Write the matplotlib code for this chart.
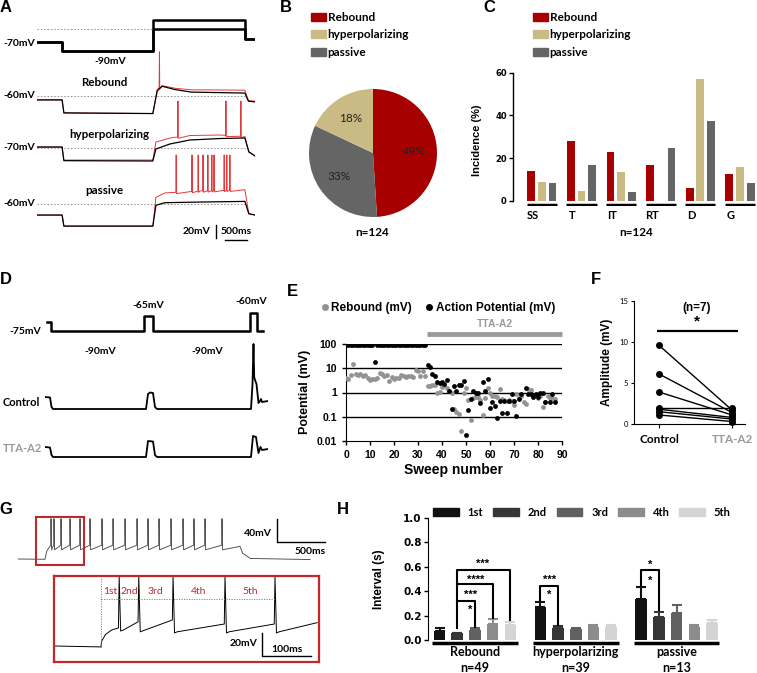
import numpy as np
import matplotlib
matplotlib.use('Agg')
import matplotlib.pyplot as plt
from matplotlib.patches import Patch, Rectangle
from matplotlib.lines import Line2D
from matplotlib.ticker import NullLocator

# ======================= DATA =======================
# --- Panel A (time in s, membrane potential in mV) ---
cmdA_t = [0, 0.57, 0.57, 2.64, 2.64, 4.72, 4.72, 4.95]
cmdA_hi = [-70, -70, -90, -90, -20, -20, -63, -63]
cmdA_lo = [-70, -70, -90, -90, -40, -40, -63, -63]

rebA_t = [0, 0.57, 0.61, 2.63, 2.73, 2.84, 3.13, 3.5, 4.72, 4.80, 4.95]
rebA_black = [-66, -66, -86, -87, -52, -45, -50, -54, -55.5, -68, -69]
rebA_red = [-66, -66, -86, -87, -50, -44, -48, -50.5, -51, -67, -68]
rebA_spikes = [2.78]

hypA_t = [0, 0.57, 0.61, 2.63, 2.70, 3.02, 3.47, 4.16, 4.72, 4.81, 4.95]
hypA_black = [-68.5, -68.5, -89.5, -90, -71.5, -63.8, -57.7, -55.4, -54.6, -76, -82.3]
hypA_red = [-68.5, -68.5, -88.5, -88.5, -60.8, -54.6, -50.8, -50, -52.3, -76, -82]
hypA_spikes = [3.20, 4.29, 4.63]

pasA_t = [0, 0.57, 0.61, 2.63, 2.70, 2.90, 3.70, 4.72, 4.81, 4.95]
pasA_black = [-77, -77, -94, -94, -62, -58, -57, -56, -75, -77]
pasA_red = [-77, -77, -94, -94, -50, -43, -40, -38, -75, -77]
pasA_spikes = [3.16, 3.52, 3.66, 3.77, 3.88, 3.97, 4.02, 4.25, 4.31, 4.38]

# --- Panel B ---
pie_labels = ['Rebound', 'hyperpolarizing', 'passive']
pie_vals = [49, 18, 33]

# --- Panel C ---
regions = ['SS', 'T', 'IT', 'RT', 'D', 'G']
inc_rebound = [14, 28, 23, 16.7, 6, 12.5]
inc_hyper = [9, 4.5, 13.5, 0, 57, 16]
inc_passive = [8.3, 16.7, 4.3, 25, 37.5, 8.3]

# --- Panel D (time in ms) ---
cmdD_t = [20, 60, 60, 990, 990, 1080, 1080, 2050, 2050, 2120, 2120, 2180]
cmdD_v = [-75, -75, -90, -90, -65, -65, -90, -90, -60, -60, -90, -90]
ctrlD_t = [0, 50, 65, 80, 1010, 1030, 1050, 1080, 1100, 1120, 2060, 2075, 2085, 2092, 2100, 2115, 2135, 2150, 2160, 2170, 2230]
ctrlD_v = [-75, -75.5, -85, -87, -87, -72, -70.5, -71, -85, -87, -87, -62, -22, -55, -58, -62, -81, -79, -77, -80, -79]
ttaD_t = [0, 50, 65, 80, 1010, 1030, 1080, 1100, 1120, 2060, 2080, 2110, 2135, 2155, 2170, 2230]
ttaD_v = [-75, -75.5, -83, -85, -85, -69, -69.5, -83, -85, -85, -64, -65, -81, -75, -78, -77]

# --- Panel E ---
reb_sweep = list(range(0, 34)) + list(range(34, 88))
reb_amp = [4.0, 3.5, 5.5, 15, 6, 5.5, 6, 5, 5.2, 4, 3.2, 3.5, 3.5, 3.8, 6.5, 6, 5, 5.5, 3, 4.5,
           3.5, 4, 4, 5.5, 5, 4.5, 5, 5, 4.5, 8.5, 8, 5, 8, 5,
           1.8, 1.9, 2.0, 2.1, 1.0, 1.05, 1.7, 2.0, 1.6, 1.1, 1.0, 0.2, 0.15, 0.13, 0.026, 1.0,
           1.5, 0.5, 0.075, 0.6, 0.65, 0.65, 0.5, 0.12, 0.6, 1.6, 0.95, 0.75, 0.7, 0.64, 1.35, 0.55,
           0.5, 0.45, 0.5, 0.45, 0.3, 0.9, 0.6, 0.7, 0.4, 0.33, 1.4, 1.3, 0.7, 0.8, 0.6, 0.7,
           0.26, 0.4, 0.7, 0.6, 0.6, 0.55]
ap_sweep = list(range(0, 34)) + [34, 35, 36, 37, 38, 39, 40, 41, 42, 43, 44, 45, 46, 47, 48, 49, 50, 51,
                                 52, 53, 54, 55, 56, 57, 58, 59, 60, 61, 62, 63, 64, 65, 66, 67, 68, 69,
                                 70, 71, 72, 73, 75, 76, 77, 78, 79, 80, 81, 82, 83, 85, 86, 87]
ap_amp = [88] * 12 + [18] + [88] * 21 + [14, 11, 6, 4.8, 2.7, 2.4, 2.6, 2.2, 3.2, 1.1, 0.21, 1.9, 1.1, 2.1,
                                         2.1, 3.0, 0.017, 0.19, 0.55, 1.1, 0.94, 1.0, 0.36, 2.8, 1.2, 3.6,
                                         0.23, 0.4, 0.29, 0.085, 0.44, 0.14, 0.44, 0.14, 0.44, 0.83, 0.44,
                                         0.11, 0.55, 0.88, 1.5, 0.83, 0.83, 0.64, 0.83, 0.64, 0.94, 0.94,
                                         0.4, 0.4, 0.9, 0.4]
tta_start, tta_end = 33.75, 90

# --- Panel F ---
f_control = [9.6, 6.1, 3.9, 2.0, 1.8, 1.5, 1.1]
f_tta = [1.7, 1.4, 1.1, 2.0, 0.8, 0.6, 0.3]

# --- Panel G (time in ms) ---
g_spikes = [344, 375, 448, 542, 646, 750, 875, 990, 1115, 1240, 1354, 1469, 1594, 1719, 1833, 1948, 2125]
g_window = (188, 688)
i_spikes = [133, 173, 243, 349, 451]
i_thresh = [-54.3, -49, -47.4, -50.9, -50.9]
i_trough = [-56, -56.7, -57.6, -57.6, -57.6]
i_names = ['1st', '2nd', '3rd', '4th', '5th']

# --- Panel H ---
h_groups = ['Rebound', 'hyperpolarizing', 'passive']
h_n = ['n=49', 'n=39', 'n=13']
h_labels = ['1st', '2nd', '3rd', '4th', '5th']
h_mean = [[0.075, 0.055, 0.082, 0.13, 0.123],
          [0.273, 0.10, 0.09, 0.104, 0.11],
          [0.34, 0.186, 0.218, 0.11, 0.142]]
h_err = [[0.021, 0.006, 0.018, 0.04, 0.022],
         [0.041, 0.015, 0.005, 0.016, 0.012],
         [0.097, 0.046, 0.072, 0.014, 0.021]]

# ======================= STYLE / LAYOUT =======================
RED = '#A60000'
TAN = '#C9BB83'
GRAY = '#656565'
TRACE_RED = '#E23A3C'
LATO = ['Lato', 'DejaVu Sans']
ARIAL = ['Liberation Sans', 'DejaVu Sans']
plt.rcParams['font.family'] = LATO

W, H = 757, 673
fig = plt.figure(figsize=(W / 100, H / 100), dpi=100)


def px_axes(x0, y0, x1, y1):
    ax = fig.add_axes([x0 / W, 1 - y1 / H, (x1 - x0) / W, (y1 - y0) / H])
    ax.patch.set_visible(False)
    return ax


ov = px_axes(0, 0, W, H)
ov.set_xlim(0, W)
ov.set_ylim(H, 0)
ov.axis('off')
ov.set_zorder(10)


def txt(x, y, s, size=7.5, ha='center', color='black', weight='bold', family=LATO, **kw):
    ov.text(x, y, s, ha=ha, va='center', fontsize=size, color=color,
            fontweight=weight, family=family, **kw)


def mv_axes(x0, x1, xlim, y0, y1, ref_px, ref_mv, ppm):
    ax = px_axes(x0, y0, x1, y1)
    ax.set_xlim(*xlim)
    ax.set_ylim(ref_mv - (y1 - ref_px) / ppm, ref_mv + (ref_px - y0) / ppm)
    ax.axis('off')
    return ax


def add_spikes(t, v, spikes, peak, w):
    t = np.asarray(t, float)
    v = np.asarray(v, float)
    tt, vv = list(t), list(v)
    for s in spikes:
        base = np.interp(s, t, v)
        tt += [s - w / 2, s, s + w / 2]
        vv += [base, peak, base - 2]
    order = np.argsort(tt, kind='stable')
    return np.array(tt)[order], np.array(vv)[order]


# panel letters
for L, x, y in [('A', 6, 8), ('B', 286, 8), ('C', 489, 8), ('D', 6, 279),
                ('E', 292, 292), ('F', 596, 279), ('G', 6, 510), ('H', 343, 510)]:
    txt(x, y, L, size=12, family=ARIAL)

# ======================= PANEL A =======================
dash = (0, (2, 2))
axc = mv_axes(37, 255, (0, 4.95), 12, 58, 42, -70, 0.45)
axc.plot(cmdA_t, cmdA_hi, color='black', lw=1.8)
axc.plot(cmdA_t, cmdA_lo, color='black', lw=1.8)
axc.hlines(-40, 0, 2.64, color='#888888', lw=0.6, ls=dash)
txt(35, 43, '-70mV', ha='right')
txt(110, 61, '-90mV')

rows = [
    (45, 125, 96, -60, rebA_t, rebA_black, rebA_red, rebA_spikes, 8, 'Rebound', 82, '-60mV', 96),
    (95, 170, 148, -70, hypA_t, hypA_black, hypA_red, hypA_spikes, 2.3, 'hyperpolarizing', 135, '-70mV', 148),
    (150, 245, 204, -60, pasA_t, pasA_black, pasA_red, pasA_spikes, 15.4, 'passive', 191, '-60mV', 204),
]
for (y0, y1, refp, refmv, t, vb, vr, sp, pk, name, ny, lab, ly) in rows:
    ax = mv_axes(37, 255, (0, 4.95), y0, y1, refp, refmv, 0.65)
    ax.hlines(refmv, 0, 4.72, color='#888888', lw=0.6, ls=dash)
    tr, vr2 = add_spikes(t, vr, sp, pk, 0.014)
    ax.plot(tr, vr2, color=TRACE_RED, lw=0.7)
    ax.plot(t, vb, color='black', lw=0.9)
    txt(104 if name != 'hyperpolarizing' else 109, ny, name, size=8.3)
    txt(35, ly, lab, ha='right')
    axA_last = ax
# scale bar (passive axes)
axA_last.plot([4.065, 4.065], [-112.3, -92.3], color='black', lw=1.0, clip_on=False)
axA_last.plot([4.27, 4.77], [-115.4, -115.4], color='black', lw=1.0, clip_on=False)
txt(211, 232, '20mV', ha='right')
txt(236, 232, '500ms')

# ======================= PANEL B =======================
axB = px_axes(309, 89, 437, 217)
order = [0, 2, 1]
wedges, texts, autot = axB.pie([pie_vals[i] for i in order], colors=[[RED, TAN, GRAY][i] for i in order],
                               startangle=90, counterclock=False, autopct=lambda p: f'{p:.0f}%',
                               pctdistance=0.64, radius=1,
                               textprops=dict(fontsize=8.5, color='#222222', family=LATO))
axB.set_xlim(-1, 1)
axB.set_ylim(-1, 1)
axB.set_aspect('equal')
leg_prop = dict(family=LATO, weight='bold', size=8.5)
axB.legend(handles=[Patch(color=c) for c in [RED, TAN, GRAY]], labels=pie_labels,
           loc='upper left', bbox_to_anchor=(311 / W, 1 - 12 / H), bbox_transform=fig.transFigure,
           frameon=False, handlelength=1.3, handleheight=0.7, handletextpad=0.1,
           labelspacing=0.55, borderpad=0, borderaxespad=0, prop=leg_prop)
txt(372, 233, 'n=124', size=8.5)

# ======================= PANEL C =======================
axC = px_axes(513, 72.7, 757, 206.3)
xc = np.arange(len(regions))
for j, (vals, c) in enumerate(zip([inc_rebound, inc_hyper, inc_passive], [RED, TAN, GRAY])):
    axC.bar(xc + (j - 1) * 0.27, vals, width=0.195, color=c)
for i in xc:
    axC.hlines(-1.9, i - 0.38, i + 0.38, color='black', lw=2.5)
axC.set_xlim(-0.73, 5.43)
axC.set_ylim(-2.5, 60)
for s in ['top', 'right', 'bottom']:
    axC.spines[s].set_visible(False)
axC.spines['left'].set_bounds(0, 60)
axC.spines['left'].set_linewidth(1.0)
axC.set_yticks([0, 20, 40, 60])
axC.set_yticklabels(['0', '20', '40', '60'], family='DejaVu Sans', fontweight='bold', fontsize=6)
axC.tick_params(axis='y', length=3, width=1, pad=1.5)
axC.set_xticks(xc - 0.23)
axC.set_xticklabels(regions, family=LATO, fontweight='bold', fontsize=8)
axC.tick_params(axis='x', length=0, pad=3)
axC.legend(handles=[Patch(color=c) for c in [RED, TAN, GRAY]], labels=pie_labels,
           loc='upper left', bbox_to_anchor=(533 / W, 1 - 12 / H), bbox_transform=fig.transFigure,
           frameon=False, handlelength=1.3, handleheight=0.7, handletextpad=0.1,
           labelspacing=0.55, borderpad=0, borderaxespad=0, prop=leg_prop)
txt(477, 140, 'Incidence (%)', size=8, family=ARIAL, rotation=90)
txt(636, 232, 'n=124', size=8.5)

# ======================= PANEL D =======================
axDc = mv_axes(45, 268, (0, 2230), 295, 340, 322, -75, 0.6)
axDc.plot(cmdD_t, cmdD_v, color='black', lw=1.8)
txt(41, 332, '-75mV', ha='right')
txt(148, 305, '-65mV')
txt(251, 301, '-60mV')
txt(100, 352, '-90mV')
txt(207, 352, '-90mV')
axD1 = mv_axes(45, 268, (0, 2230), 335, 420, 397, -75, 1.0)
axD1.plot(ctrlD_t, ctrlD_v, color='black', lw=1.3)
axD2 = mv_axes(45, 268, (0, 2230), 425, 465, 447, -75, 1.0)
axD2.plot(ttaD_t, ttaD_v, color='black', lw=1.3)
txt(3, 402, 'Control', ha='left', size=8)
txt(3, 449, 'TTA-A2', ha='left', size=8, color='#9a9a9a')

# ======================= PANEL E =======================
axE = px_axes(346, 344, 562, 441)
axE.set_yscale('log')
axE.set_ylim(0.01, 100)
axE.set_xlim(0, 90)
for yv in [0.1, 1, 10, 100]:
    axE.axhline(yv, color='black', lw=1.0, zorder=1)
axE.scatter(reb_sweep, reb_amp, s=12, color='#939393', zorder=3, linewidths=0)
axE.scatter(ap_sweep, ap_amp, s=12, color='black', zorder=4, linewidths=0)
axE.plot([tta_start, tta_end], [260, 260], color='#9a9a9a', lw=3.5, clip_on=False, solid_capstyle='butt')
axE.text((tta_start + tta_end) / 2, 700, 'TTA-A2', ha='center', va='center', color='#9a9a9a',
         fontsize=7.5, fontweight='bold', family=ARIAL)
for s in ['top', 'right']:
    axE.spines[s].set_visible(False)
axE.set_yticks([0.01, 0.1, 1, 10, 100])
axE.set_yticklabels(['0.01', '0.1', '1', '10', '100'])
axE.yaxis.set_minor_locator(NullLocator())
axE.set_xticks(range(0, 91, 10))
axE.tick_params(labelsize=7.5, length=3, width=1)
for lab in axE.get_xticklabels() + axE.get_yticklabels():
    lab.set_fontweight('bold')
    lab.set_family(ARIAL)
axE.legend(handles=[Line2D([], [], marker='o', ls='', color='#939393', markersize=4),
                    Line2D([], [], marker='o', ls='', color='black', markersize=4)],
           labels=['Rebound (mV)', 'Action Potential (mV)'], ncol=2,
           loc='upper left', bbox_to_anchor=(322 / W, 1 - 302 / H), bbox_transform=fig.transFigure,
           frameon=False, handlelength=0.5, handletextpad=0.3, columnspacing=1.2, borderpad=0,
           borderaxespad=0, prop=dict(family=ARIAL, weight='bold', size=8.5))
txt(305, 392, 'Potential (mV)', size=9, family=ARIAL, rotation=90)
txt(453, 470, 'Sweep number', size=10, family=ARIAL)

# ======================= PANEL F =======================
axF = px_axes(634, 301, 745, 424)
for c, t in zip(f_control, f_tta):
    axF.plot([0, 1], [c, t], color='black', lw=1.0, marker='o', markersize=4, clip_on=False)
axF.set_xlim(-0.342, 1.178)
axF.set_ylim(0, 15)
for s in ['top', 'right']:
    axF.spines[s].set_visible(False)
axF.set_yticks([0, 5, 10, 15])
axF.tick_params(axis='y', labelsize=5.5, length=2.5, pad=1.5)
axF.set_xticks([0, 1])
axF.set_xticklabels(['Control', 'TTA-A2'], fontsize=8.5, fontweight='bold', family=LATO)
axF.get_xticklabels()[1].set_color('#9a9a9a')
axF.tick_params(axis='x', length=3, pad=4)
axF.hlines(11.3, -0.03, 1.08, color='black', lw=1.6, clip_on=False)
axF.text(0.52, 12.5, '*', ha='center', va='center', fontsize=11, fontweight='bold', family=ARIAL)
axF.text(0.52, 14.2, '(n=7)', ha='center', va='center', fontsize=8.5, fontweight='bold', family=ARIAL)
txt(607, 362, 'Amplitude (mV)', size=8.5, family=ARIAL, rotation=90)

# ======================= PANEL G =======================
axG = px_axes(18, 505, 330, 572)
axG.set_xlim(0, 3250)
axG.set_ylim(-70 - (572 - 559) / 0.575, -70 + (559 - 505) / 0.575)
axG.axis('off')
gt, gv = [0, 281, 300], [-70, -70.5, -56]
for s in g_spikes:
    gt += [s - 3, s, s + 6]
    gv += [-46, 0, -54]
gt += [2312, 2340, 2420, 3042]
gv += [-48, -60, -69, -71]
axG.plot(gt, gv, color='#555555', lw=0.7)
axG.add_patch(Rectangle((g_window[0], -80.4), g_window[1] - g_window[0], 83.4,
                        fill=False, edgecolor='#C0282C', lw=1.5, clip_on=False))
axG.plot([2698, 2698, 3198], [-0.4, -40.4, -40.4], color='black', lw=1.0, clip_on=False)
txt(272, 533, '40mV', ha='right')
txt(310, 551, '500ms')

axI = px_axes(54, 576, 319, 662)
axI.set_xlim(0, 265 / 0.49)
axI.set_ylim(-70 - (662 - 646) / 1.15, -70 + (646 - 576) / 1.15)
it, iv = [2, 96, 97, 105, 118], [-70, -70.8, -66, -60, -56]
for s, th, tr in zip(i_spikes, i_thresh, i_trough):
    it += [s - 1.5, s, s + 3, s + 9]
    iv += [th, -10, tr - 1, tr]
it += [537]
iv += [-49.7]
axI.plot(it, iv, color='black', lw=0.7)
axI.plot([96, 96], [-70.8, -10], color='#777777', lw=0.6, ls=(0, (1.5, 1.5)))
axI.plot([96, i_spikes[-1]], [-29, -29], color='#777777', lw=0.6, ls=(0, (1.5, 1.5)))
prev = [96] + i_spikes[:-1]
for a, b, name in zip(prev, i_spikes, i_names):
    axI.text((a + b) / 2, -23, name, ha='center', va='center', color='#C0282C', fontsize=7.5, family=LATO)
axI.plot([424.5, 424.5, 524.5], [-58.7, -78.7, -78.7], color='black', lw=1.0)
for s in axI.spines.values():
    s.set_color('#C0282C')
    s.set_linewidth(1.6)
axI.set_xticks([])
axI.set_yticks([])
txt(258, 644, '20mV', ha='right')
txt(287, 650, '100ms')

# ======================= PANEL H =======================
axH = px_axes(428, 518, 720, 640)
h_colors = ['#111111', '#363636', '#616161', '#8c8c8c', '#d4d4d4']
gstep = 5.7
for g in range(3):
    for k in range(5):
        x = g * gstep + k
        axH.bar(x, h_mean[g][k], width=0.65, color=h_colors[k])
        axH.errorbar(x, h_mean[g][k], yerr=[[0], [h_err[g][k]]], color=h_colors[k],
                     elinewidth=1.5, capsize=3.5, capthick=1.5)
    axH.plot([g * gstep - 0.42, g * gstep + 4.42], [-0.025, -0.025], color='black', lw=2.5,
             clip_on=False, solid_capstyle='butt')
    cx = 428 + (g * gstep + 2 + 0.65) * 292 / 16.5
    txt(cx, 652, h_groups[g], size=9)
    txt(cx, 668, h_n[g], size=9)
axH.set_xlim(-0.65, 15.85)
axH.set_ylim(0, 1.0)
for s in ['top', 'right', 'bottom']:
    axH.spines[s].set_visible(False)
axH.set_xticks([])
axH.set_yticks([0, 0.2, 0.4, 0.6, 0.8, 1.0])
axH.set_yticklabels(['0.0', '0.2', '0.4', '0.6', '0.8', '1.0'], family='DejaVu Sans',
                    fontweight='bold', fontsize=7.5)
axH.tick_params(axis='y', length=3, width=1, pad=1.5)
bk = dict(color='black', lw=1.5, clip_on=False)
# Rebound brackets (from 2nd)
axH.plot([1, 1, 4, 4], [0.10, 0.574, 0.574, 0.16], **bk)
axH.plot([1, 3, 3], [0.459, 0.459, 0.178], **bk)
axH.plot([1, 2, 2], [0.322, 0.322, 0.11], **bk)
# hyperpolarizing bracket
axH.plot([gstep, gstep, gstep + 1, gstep + 1], [0.33, 0.443, 0.443, 0.12], **bk)
# passive bracket
axH.plot([2 * gstep, 2 * gstep, 2 * gstep + 1, 2 * gstep + 1], [0.45, 0.574, 0.574, 0.245], **bk)
star = dict(ha='center', va='center', fontsize=8, fontweight='bold', family=ARIAL)
axH.text(2.45, 0.625, '***', **star)
axH.text(1.9, 0.49, '***', **star)
axH.text(2.4, 0.49, '*', **star)
axH.text(1.75, 0.37, '***', **star)
axH.text(1.75, 0.245, '*', **star)
axH.text(gstep + 0.5, 0.49, '***', **star)
axH.text(gstep + 0.5, 0.37, '*', **star)
axH.text(2 * gstep + 0.5, 0.615, '*', **star)
axH.text(2 * gstep + 0.5, 0.485, '*', **star)
axH.legend(handles=[Patch(color=c) for c in h_colors], labels=h_labels, ncol=5,
           loc='upper left', bbox_to_anchor=(433 / W, 1 - 507 / H), bbox_transform=fig.transFigure,
           frameon=False, handlelength=2.3, handleheight=0.75, handletextpad=0.8, columnspacing=0.9,
           borderpad=0, borderaxespad=0, prop=dict(family=LATO, weight='bold', size=8))
txt(379, 579, 'Interval (s)', size=8.5, family=ARIAL, rotation=90)

fig.savefig('out.png', dpi=100)
